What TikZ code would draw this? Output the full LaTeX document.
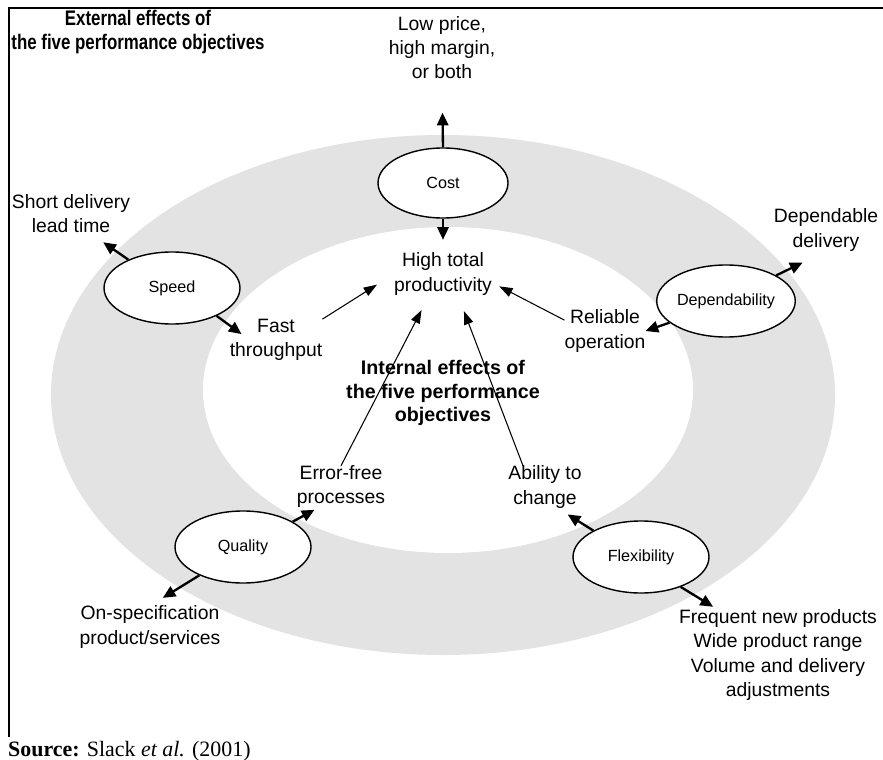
\documentclass[tikz,border=0pt]{standalone}
\usepackage{fontspec}
\setmainfont{Liberation Sans}
\newfontfamily\serifsrc{Liberation Serif}
\usepackage{graphicx}
\usetikzlibrary{shapes.geometric, arrows.meta, calc}

\newcommand{\narrowtext}[1]{\scalebox{0.8}[1]{#1}}

\begin{document}
\begin{tikzpicture}[
    x=0.03cm, y=-0.03cm,
    font=\fontsize{16.5}{20.5}\selectfont,
    % Node styles
    objective/.style={ellipse, draw, line width=1.2pt, fill=white, minimum width=4.08cm, minimum height=2.16cm, inner sep=0pt, font=\fontsize{13.8}{16}\selectfont},
    effect/.style={align=center, inner sep=0pt},
    heading/.style={align=center, inner sep=0pt, font=\fontsize{16.8}{20}\selectfont\bfseries},
    outarrow/.style={-{Triangle[length=0.38cm, width=0.34cm]}, line width=2pt},
    inarrow/.style={-{Triangle[length=0.4cm, width=0.28cm]}, line width=0.9pt},
]

\useasboundingbox (0,0) rectangle (883,760);

% ============================================================================
% RING AND FRAME
% ============================================================================
\fill[gray!22] (443,395) ellipse [x radius=11.76cm, y radius=7.8cm];
\fill[white] (448,390) ellipse [x radius=7.35cm, y radius=4.89cm];

\draw[line width=2.5pt] (883,8) -- (9,8) -- (9,737);

% Titles
\node[heading, font=\fontsize{18}{20.5}\selectfont\bfseries] (exttitle) at (138,32)
    {\narrowtext{External effects of}\\\narrowtext{the five performance objectives}};
\node[heading] (inttitle) at (443,393)
    {Internal effects of\\the five performance\\objectives};

% ============================================================================
% EFFECTS
% ============================================================================
\node[effect] (lowprice) at (442,48) {Low price,\\high margin,\\or both};
\node[effect] (hightotal) at (443,274) {High total\\productivity};
\node[effect] (shortdel) at (71,214) {Short delivery\\lead time};
\node[effect] (fast) at (276,340) {Fast\\throughput};
\node[effect] (reliable) at (605,331) {Reliable\\operation};
\node[effect] (dependable) at (826,230) {Dependable\\delivery};
\node[effect] (errorfree) at (341,487) {Error-free\\processes};
\node[effect] (ability) at (545,487) {Ability to\\change};
\node[effect] (onspec) at (150,627) {On-specification\\product/services};
\node[effect] (frequent) at (778,655)
    {Frequent new products\\Wide product range\\Volume and delivery\\adjustments};

% ============================================================================
% PERFORMANCE OBJECTIVES
% ============================================================================
\node[objective, minimum width=3.9cm, minimum height=2.1cm] (cost) at (443,183) {Cost};
\node[objective] (speed) at (172,288) {Speed};
\node[objective] (dependability) at (726,301) {Dependability};
\node[objective] (quality) at (243,547) {Quality};
\node[objective] (flexibility) at (641,557) {Flexibility};

% External effects
\draw[outarrow, shorten >=1.0cm] (cost.north) -- (lowprice.south);
\draw[outarrow, shorten >=0.47cm] (speed.147) -- (shortdel.-45);
\draw[outarrow, shorten >=0.78cm] (dependability.27) -- (dependable.south);
\draw[outarrow, shorten >=0.45cm] (quality.213) -- (onspec.north);
\draw[outarrow, shorten >=0.17cm] (flexibility.-37) -- (frequent.143);

% Internal effects
\draw[outarrow, shorten >=0.39cm] (cost.south) -- (hightotal.north);
\draw[outarrow] (speed.-32) -- ([shift={(12,15)}]fast.north west);
\draw[outarrow] (dependability.201) -- (reliable.east);
\draw[outarrow, shorten >=0.1cm] (quality.27) -- (errorfree.222);
\draw[outarrow, shorten >=0.35cm] (flexibility.151) -- (ability.-59);

% Towards productivity
\draw[inarrow, shorten >=0.6cm] (fast.north east) -- (hightotal.west);
\draw[inarrow, shorten >=0.24cm] (reliable.165) -- (hightotal.-10);
\draw[inarrow, shorten >=0.5cm] (errorfree.north) -- (hightotal.237);
\draw[inarrow, shorten >=0.51cm] (ability.136) -- (hightotal.305);

% Source
\node[anchor=base west, inner sep=0pt, font=\serifsrc\fontsize{18.7}{22}\selectfont] (source) at (8,756)
    {\textbf{Source:} Slack \textit{et al.} (2001)};

\end{tikzpicture}
\end{document}
